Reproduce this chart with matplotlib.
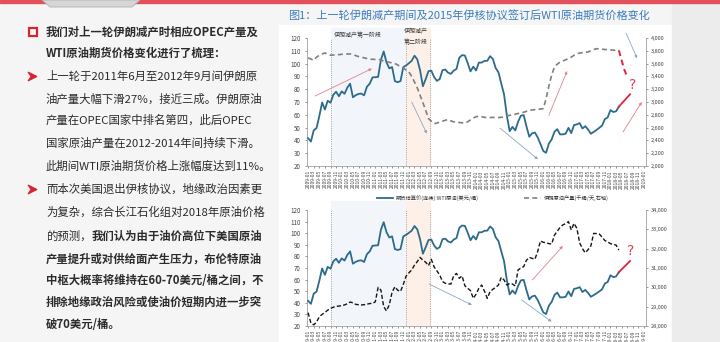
import numpy as np
import matplotlib
matplotlib.use("Agg")
import matplotlib.pyplot as plt
from matplotlib.patches import Rectangle, Polygon
from matplotlib.path import Path

plt.rcParams['font.family'] = ['Noto Sans CJK SC', 'DejaVu Sans']

# monthly data from 2009-01
start_year = 2009
wti = [41.7, 39.1, 47.9, 49.6, 59.0, 69.6, 64.1, 71.0, 69.4, 75.7, 78.0, 74.5,
       78.3, 76.4, 81.2, 84.3, 73.7, 75.3, 76.3, 76.6, 75.2, 81.9, 84.3, 89.2,
       89.4, 89.6, 102.9, 109.5, 100.9, 96.3, 97.3, 86.3, 85.5, 86.3, 97.2, 98.6,
       100.3, 102.2, 106.2, 103.3, 94.7, 82.3, 87.9, 94.1, 94.5, 89.5, 86.5, 87.9,
       94.8, 95.3, 92.9, 92.0, 94.5, 95.8, 104.6, 106.6, 106.3, 100.5, 93.9, 97.6,
       94.6, 100.8, 100.8, 102.1, 102.2, 105.8, 103.6, 96.5, 93.2, 84.4, 75.8, 59.3,
       47.2, 50.6, 47.8, 54.5, 59.3, 59.8, 50.9, 42.9, 45.5, 46.2, 42.4, 37.2,
       31.7, 30.3, 37.5, 40.8, 46.7, 48.8, 44.7, 44.7, 45.2, 49.8, 45.7, 52.0,
       52.5, 53.5, 49.3, 51.1, 48.5, 45.2, 46.6, 48.1, 49.8, 51.6, 56.6, 57.9,
       63.7, 62.2, 62.7, 66.3]
wti_forecast = [66.3, 68.8, 71.2, 73.6, 76.0]

iran = [3690, 3670, 3650, 3700, 3730, 3750, 3766, 3750, 3730, 3735, 3740, 3740,
        3745, 3750, 3750, 3750, 3740, 3725, 3710, 3700, 3690, 3680, 3668, 3668,
        3665, 3665, 3660, 3636, 3630, 3620, 3610, 3600, 3580, 3547, 3530, 3500,
        3470, 3400, 3312, 3220, 3105, 2990, 2870, 2740, 2700, 2662, 2670, 2690,
        2700, 2715, 2725, 2705, 2690, 2685, 2680, 2675, 2670, 2690, 2720, 2750,
        2770, 2777, 2770, 2760, 2757, 2757, 2760, 2757, 2757, 2760, 2770, 2780,
        2792, 2800, 2810, 2820, 2828, 2840, 2855, 2870, 2875, 2880, 2885, 2890,
        2897, 3050, 3250, 3420, 3547, 3590, 3625, 3640, 3660, 3677, 3700, 3730,
        3750, 3766, 3770, 3775, 3781, 3800, 3820, 3833, 3830, 3825, 3820, 3817,
        3815, 3810, 3808, 3807]
iran_forecast = [3807, 3650, 3500, 3390]

opec = [28690, 28150, 28060, 28200, 28480, 28600, 28700, 28820, 28910, 28970, 29010, 29030,
        29060, 29090, 29150, 29240, 29200, 29120, 29100, 29090, 29100, 29130, 29160, 29170,
        29250, 30000, 29860, 29000, 28780, 29100, 29750, 30030, 29850, 29790, 30150, 30580,
        30750, 30900, 31150, 31330, 31550, 31400, 31300, 31120, 31450, 31060, 30850, 30640,
        30300, 30210, 30180, 30170, 30600, 30720, 30470, 30590, 30080, 29950, 29830, 29430,
        29650, 29950, 30120, 29800, 29430, 29780, 29900, 30000, 30120, 30520, 30380, 30120,
        30200, 30170, 30070, 30900, 31000, 31070, 31400, 31550, 31500, 31450, 31850, 32400,
        32330, 32310, 32260, 32240, 32700, 32900, 33100, 33230, 33300, 33400, 32970, 33310,
        33050, 32300, 32000, 31790, 31950, 32140, 32790, 32780, 32760, 32600, 32420, 32350,
        32260, 32220, 32190, 31930]

n_months = 121  # axis runs to 2019-01
tick_months = list(range(0, n_months, 2))
tick_labels = [f"{start_year + m // 12}-{m % 12 + 1:02d}" for m in tick_months]

# phases of the last Iranian output cut (month index)
phase1 = (8.1, 34.9)
phase2 = (34.9, 43.6)

title = "图1：上一轮伊朗减产期间及2015年伊核协议签订后WTI原油期货价格变化"
lines = [
    ("我们对上一轮伊朗减产时相应OPEC产量及", None, True),
    ("WTI原油期货价格变化进行了梳理：", None, True),
    ("上一轮于2011年6月至2012年9月间伊朗原", None, False),
    ("油产量大幅下滑27%，接近三成。伊朗原油", None, False),
    ("产量在OPEC国家中排名第四，此后OPEC", None, False),
    ("国家原油产量在2012-2014年间持续下滑。", None, False),
    ("此期间WTI原油期货价格上涨幅度达到11%。", None, False),
    ("而本次美国退出伊核协议，地缘政治因素更", None, False),
    ("为复杂，综合长江石化组对2018年原油价格", None, False),
    ("的预测，", "我们认为由于油价高位下美国原油", False),
    ("产量提升或对供给面产生压力，布伦特原油", None, True),
    ("中枢大概率将维持在60-70美元/桶之间，不", None, True),
    ("排除地缘政治风险或使油价短期内进一步突", None, True),
    ("破70美元/桶。", None, True),
]
line_y = [32, 53, 76, 99, 120, 143, 166, 189, 212, 236, 259, 280, 302, 324]

W, H = 720, 342
fig = plt.figure(figsize=(7.2, 3.42), dpi=100)
fig.patch.set_facecolor('#f5f5f5')

# background layer in pixel coordinates
bg = fig.add_axes([0, 0, 1, 1], zorder=-5)
bg.set_xlim(0, W)
bg.set_ylim(H, 0)
bg.axis('off')
bg.add_patch(Rectangle((279, 25), 393, 320, color='white'))
bg.add_patch(Rectangle((672, 0), 48, H, color='#ececec'))
bg.add_patch(Rectangle((0, 0), W, 2.5, color='#e2505c'))
bg.add_patch(Polygon([(42, 0), (140, 0), (132, 7), (50, 7)], closed=True,
                     facecolor='#d6d6d6', edgecolor='#b0b0b0', lw=0.6))
bg.text(288, 15, title, color='#3a7cbd', fontsize=8, va='center', ha='left')

# left text block
txt_color = '#2b2b2b'
renderer = fig.canvas.get_renderer()
for (a, b, bold), y in zip(lines, line_y):
    t = bg.text(46, y, a, fontsize=8.2, color=txt_color, va='center', ha='left',
                fontweight='bold' if bold else 'normal')
    if b is not None:
        bb = t.get_window_extent(renderer)
        x2 = bg.transData.inverted().transform((bb.x1, bb.y0))[0]
        bg.text(x2, y, b, fontsize=8.2, color=txt_color, va='center', ha='left',
                fontweight='bold')

bg.add_patch(Rectangle((29, 28), 8, 8, facecolor='white', edgecolor='#d9232f', lw=1.6))
arrow_marker = Path([(-1, -1), (1, 0), (-1, 1), (-0.3, 0), (-1, -1)],
                    [Path.MOVETO, Path.LINETO, Path.LINETO, Path.LINETO, Path.CLOSEPOLY])
for y in (76, 189):
    bg.plot([32], [y], marker=arrow_marker, markersize=6, color='#d9232f', mec='#d9232f')

# chart axes
ax_left = 307 / W
ax_w = (646 - 307) / W
top_rect = [ax_left, 1 - 166 / H, ax_w, 128 / H]
bot_rect = [ax_left, 1 - 326 / H, ax_w, 116 / H]

blue = '#2d6b8c'
red = '#e2243a'
spine_c = '#a0a0a0'


def style_axes(ax, ax2, right_lim, right_ticks):
    ax.set_xlim(-0.4, 120.7)
    ax.set_ylim(20, 120)
    ax.set_yticks(range(20, 121, 10))
    ax.set_xticks(tick_months)
    ax.set_xticklabels(tick_labels, rotation=90, fontsize=3.6, color='#444')
    ax.tick_params(axis='y', labelsize=4.5, length=1.5, width=0.4, colors='#444', pad=3)
    ax.tick_params(axis='x', length=1.5, width=0.4, colors='#444', pad=1.5)
    for s in ('top', 'right'):
        ax.spines[s].set_visible(False)
    for s in ('left', 'bottom'):
        ax.spines[s].set_color(spine_c)
        ax.spines[s].set_linewidth(0.6)
    ax.patch.set_alpha(0)
    ax2.set_ylim(*right_lim)
    ax2.set_yticks(right_ticks)
    ax2.set_yticklabels([f"{v:,}" for v in right_ticks])
    ax2.tick_params(axis='y', labelsize=4, length=1.5, width=0.4, colors='#444', pad=2)
    for s in ('top', 'left', 'bottom'):
        ax2.spines[s].set_visible(False)
    ax2.spines['right'].set_color(spine_c)
    ax2.spines['right'].set_linewidth(0.6)
    for lo, hi, c in ((phase1[0], phase1[1], '#f2f6fb'), (phase2[0], phase2[1], '#fdf0e8')):
        ax.axvspan(lo, hi, ymin=0, ymax=1.08, color=c, zorder=0, clip_on=False)
    for xv in (phase1[0], phase1[1], phase2[1]):
        ax.axvline(xv, ymin=0, ymax=1.0, color='#8a8a8a', ls=':', lw=0.6, zorder=1)


def arrow(ax, start, end, color):
    ax.annotate('', xy=end, xytext=start,
                arrowprops=dict(arrowstyle='-|>', color=color, lw=0.6, mutation_scale=4,
                                shrinkA=0, shrinkB=0), annotation_clip=False)


red_arrow = '#e58089'
blue_arrow = '#8aa8c4'
x_wti = np.arange(len(wti))
x_wti_fc = np.arange(len(wti) - 1, len(wti) - 1 + len(wti_forecast))

# top chart: WTI vs Iran output
ax1 = fig.add_axes(top_rect)
ax1b = ax1.twinx()
style_axes(ax1, ax1b, (2000, 4000), list(range(2000, 4001, 200)))
l1, = ax1.plot(x_wti, wti, color=blue, lw=1.3, zorder=3, label='期货结算价(连续):WTI原油(美元/桶)')
ax1.plot(x_wti_fc, wti_forecast, color=red, lw=1.3, zorder=3)
x_iran = np.arange(len(iran))
x_iran_fc = np.arange(len(iran) - 1, len(iran) - 1 + len(iran_forecast))
l2, = ax1b.plot(x_iran, iran, color='#7f7f7f', lw=1.2, ls=(0, (3, 2)), label='伊朗原油产量(千桶/天,右轴)')
ax1b.plot(x_iran_fc, iran_forecast, color=red, lw=1.4, ls=(0, (3, 2)))

ax1.text(17.9, 1.025, '伊朗减产第一阶段', transform=ax1.get_xaxis_transform(),
         fontsize=4.3, ha='center', va='center', color='#333')
ax1.text(38.6, 1.06, '伊朗减产', transform=ax1.get_xaxis_transform(),
         fontsize=4.3, ha='center', va='center', color='#333')
ax1.text(38.6, 0.97, '第二阶段', transform=ax1.get_xaxis_transform(),
         fontsize=4.3, ha='center', va='center', color='#333')

arrow(ax1, (2.5, 74.7), (22.8, 96.1), red_arrow)
arrow(ax1, (37, 70), (42.4, 45.3), blue_arrow)
arrow(ax1, (68.6, 49.5), (82.1, 25.2), blue_arrow)
arrow(ax1, (86, 59.6), (92.5, 94.2), red_arrow)
arrow(ax1, (113.6, 123.7), (117.5, 104.1), blue_arrow)
arrow(ax1, (112.5, 46.6), (119.2, 70), red_arrow)
ax1.text(116, 83, '?', color='#e0404f', fontsize=10, ha='center', va='center', family='DejaVu Sans')

fig.legend(handles=[l1, l2], loc='center', bbox_to_anchor=(0.684, 1 - 198 / H), ncol=2,
           frameon=False, fontsize=3.8, handlelength=3.2, columnspacing=8.5,
           handletextpad=0.5, labelcolor='#333')

# bottom chart: WTI vs OPEC output
ax2 = fig.add_axes(bot_rect)
ax2b = ax2.twinx()
style_axes(ax2, ax2b, (28000, 34000), list(range(28000, 34001, 1000)))
ax2.plot(x_wti, wti, color=blue, lw=1.3, zorder=3)
ax2.plot(x_wti_fc, wti_forecast, color=red, lw=1.3, zorder=3)
ax2b.plot(np.arange(len(opec)), opec, color='#151515', lw=1.0, ls=(0, (3, 1.6)))

arrow(ax2, (43.2, 56.2), (58.5, 38.1), blue_arrow)
arrow(ax2, (76.3, 42.4), (87, 23.7), blue_arrow)
arrow(ax2, (80.1, 59.7), (91, 89), red_arrow)
ax2.text(115.2, 84.7, '?', color='#e0404f', fontsize=10, ha='center', va='center', family='DejaVu Sans')

fig.savefig('out.png', dpi=100, facecolor=fig.get_facecolor())
